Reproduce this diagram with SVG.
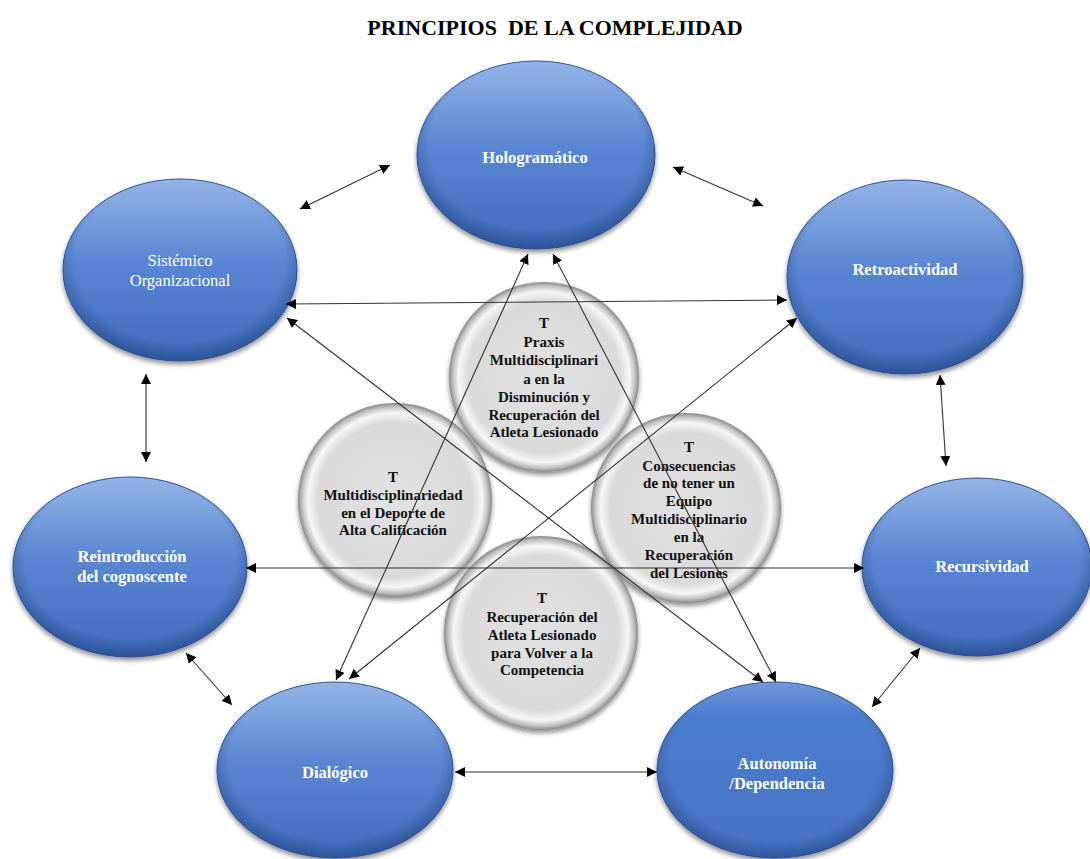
<svg xmlns="http://www.w3.org/2000/svg" width="1090" height="859" viewBox="0 0 1090 859">
  <defs>
    <linearGradient id="blueFill" x1="0" y1="0" x2="0" y2="1">
      <stop offset="0" stop-color="#93b4e6"/>
      <stop offset="0.45" stop-color="#5a86d2"/>
      <stop offset="1" stop-color="#3f6cbc"/>
    </linearGradient>
    <linearGradient id="blueFlat" x1="0" y1="0" x2="0" y2="1">
      <stop offset="0" stop-color="#6f98dc"/>
      <stop offset="0.2" stop-color="#4d7ccd"/>
      <stop offset="1" stop-color="#4673c3"/>
    </linearGradient>
    <radialGradient id="blueRim" cx="0.5" cy="0.45" r="0.55">
      <stop offset="0.82" stop-color="#1f3f7a" stop-opacity="0"/>
      <stop offset="1" stop-color="#1f3f7a" stop-opacity="0.55"/>
    </radialGradient>
    <radialGradient id="greyFill" cx="0.5" cy="0.5" r="0.5">
      <stop offset="0" stop-color="#e2e2e2"/>
      <stop offset="0.8" stop-color="#dadada"/>
      <stop offset="0.9" stop-color="#f6f6f6"/>
      <stop offset="0.96" stop-color="#c0c0c0"/>
      <stop offset="1" stop-color="#888"/>
    </radialGradient>
    <filter id="shadow" x="-20%" y="-20%" width="140%" height="150%">
      <feGaussianBlur in="SourceAlpha" stdDeviation="2.5"/>
      <feOffset dx="0" dy="3" result="b"/>
      <feComponentTransfer><feFuncA type="linear" slope="0.45"/></feComponentTransfer>
      <feMerge><feMergeNode/><feMergeNode in="SourceGraphic"/></feMerge>
    </filter>
    <marker id="ah" viewBox="0 0 10 10" refX="10" refY="5" markerWidth="10" markerHeight="10" markerUnits="userSpaceOnUse" orient="auto-start-reverse">
      <path d="M0,0 L10,5 L0,10 z" fill="#000"/>
    </marker>
  </defs>
  <style>
    .title { font-family: "Liberation Serif", "Times New Roman", serif; font-weight: bold; font-size: 22px; fill: #000; }
    .blue { stroke: #2f5597; stroke-width: 1; filter: url(#shadow); }
    .grey { fill: url(#greyFill); filter: url(#shadow); }
    .lbl { font-family: "Liberation Serif", "Times New Roman", serif; font-weight: bold; font-size: 16.5px; fill: #fff; text-anchor: middle; }
    .lblr { font-family: "Liberation Serif", "Times New Roman", serif; font-size: 16.5px; fill: #fff; text-anchor: middle; }
    .ctxt { font-family: "Liberation Serif", "Times New Roman", serif; font-weight: bold; font-size: 15px; fill: #111; text-anchor: middle; }
    .conn line { stroke: #333; stroke-width: 1.1; marker-start: url(#ah); marker-end: url(#ah); }
  </style>

  <rect width="1090" height="859" fill="#fff"/>
  <text class="title" x="555" y="35" text-anchor="middle">PRINCIPIOS&#160; DE LA COMPLEJIDAD</text>

  <!-- outer principles -->
  <g id="hologramatico">
    <ellipse class="blue" cx="536" cy="155" rx="119" ry="94" fill="url(#blueFill)"/>
    <ellipse cx="536" cy="155" rx="119" ry="94" fill="url(#blueRim)"/>
    <text class="lbl" x="535" y="163">Hologramático</text>
  </g>
  <g id="sistemico">
    <ellipse class="blue" cx="180" cy="270" rx="117" ry="91" fill="url(#blueFill)"/>
    <ellipse cx="180" cy="270" rx="117" ry="91" fill="url(#blueRim)"/>
    <text class="lblr" x="180" y="266">Sistémico</text>
    <text class="lblr" x="180" y="286">Organizacional</text>
  </g>
  <g id="retroactividad">
    <ellipse class="blue" cx="905" cy="277" rx="118" ry="97" fill="url(#blueFill)"/>
    <ellipse cx="905" cy="277" rx="118" ry="97" fill="url(#blueRim)"/>
    <text class="lbl" x="905" y="275">Retroactividad</text>
  </g>
  <g id="reintroduccion">
    <ellipse class="blue" cx="130" cy="567" rx="117" ry="90" fill="url(#blueFill)"/>
    <ellipse cx="130" cy="567" rx="117" ry="90" fill="url(#blueRim)"/>
    <text class="lbl" x="132" y="562">Reintroducción</text>
    <text class="lbl" x="132" y="582">del cognoscente</text>
  </g>
  <g id="recursividad">
    <ellipse class="blue" cx="977" cy="567" rx="115" ry="89" fill="url(#blueFill)"/>
    <ellipse cx="977" cy="567" rx="115" ry="89" fill="url(#blueRim)"/>
    <text class="lbl" x="982" y="572">Recursividad</text>
  </g>
  <g id="dialogico">
    <ellipse class="blue" cx="335" cy="770" rx="118" ry="88" fill="url(#blueFill)"/>
    <ellipse cx="335" cy="770" rx="118" ry="88" fill="url(#blueRim)"/>
    <text class="lbl" x="335" y="778">Dialógico</text>
  </g>
  <g id="autonomia">
    <ellipse class="blue" cx="775" cy="770" rx="118" ry="88" fill="url(#blueFlat)"/>
    <ellipse cx="775" cy="770" rx="118" ry="88" fill="url(#blueRim)"/>
    <text class="lbl" x="777" y="769">Autonomía</text>
    <text class="lbl" x="777" y="789">/Dependencia</text>
  </g>

  <!-- central topics -->
  <g id="tema-praxis">
    <circle class="grey" cx="544" cy="377" r="95"/>
    <text class="ctxt" x="544" y="328">T</text>
    <text class="ctxt" x="544" y="347">Praxis</text>
    <text class="ctxt" x="544" y="365">Multidisciplinari</text>
    <text class="ctxt" x="544" y="384">a en la</text>
    <text class="ctxt" x="544" y="402">Disminución y</text>
    <text class="ctxt" x="544" y="420">Recuperación del</text>
    <text class="ctxt" x="544" y="437">Atleta Lesionado</text>
  </g>
  <g id="tema-multidisciplinariedad">
    <circle class="grey" cx="395" cy="500" r="97"/>
    <text class="ctxt" x="393" y="482">T</text>
    <text class="ctxt" x="393" y="500">Multidisciplinariedad</text>
    <text class="ctxt" x="393" y="518">en el Deporte de</text>
    <text class="ctxt" x="393" y="535">Alta Calificación</text>
  </g>
  <g id="tema-consecuencias">
    <circle class="grey" cx="686" cy="508" r="95"/>
    <text class="ctxt" x="689" y="452">T</text>
    <text class="ctxt" x="689" y="471">Consecuencias</text>
    <text class="ctxt" x="689" y="488">de no tener un</text>
    <text class="ctxt" x="689" y="506">Equipo</text>
    <text class="ctxt" x="689" y="524">Multidisciplinario</text>
    <text class="ctxt" x="689" y="542">en la</text>
    <text class="ctxt" x="689" y="560">Recuperación</text>
    <text class="ctxt" x="689" y="578">del Lesiones</text>
  </g>
  <g id="tema-recuperacion">
    <circle class="grey" cx="541" cy="633" r="97"/>
    <text class="ctxt" x="542" y="603">T</text>
    <text class="ctxt" x="542" y="622">Recuperación del</text>
    <text class="ctxt" x="542" y="640">Atleta Lesionado</text>
    <text class="ctxt" x="542" y="658">para Volver a la</text>
    <text class="ctxt" x="542" y="675">Competencia</text>
  </g>

  <!-- two-way relations between principles -->
  <g id="connectors" class="conn">
    <line x1="300" y1="209" x2="390" y2="165"/>
    <line x1="673" y1="167" x2="763" y2="206"/>
    <line x1="286" y1="304" x2="787" y2="300"/>
    <line x1="146" y1="374" x2="146" y2="462"/>
    <line x1="940" y1="375" x2="946" y2="466"/>
    <line x1="246" y1="568" x2="864" y2="568"/>
    <line x1="186" y1="653" x2="232" y2="705"/>
    <line x1="920" y1="648" x2="872" y2="707"/>
    <line x1="455" y1="772" x2="657" y2="772"/>
    <line x1="528" y1="254" x2="336" y2="680"/>
    <line x1="553" y1="254" x2="776" y2="682"/>
    <line x1="287" y1="318" x2="763" y2="682"/>
    <line x1="797" y1="318" x2="349" y2="679"/>
  </g>
</svg>
